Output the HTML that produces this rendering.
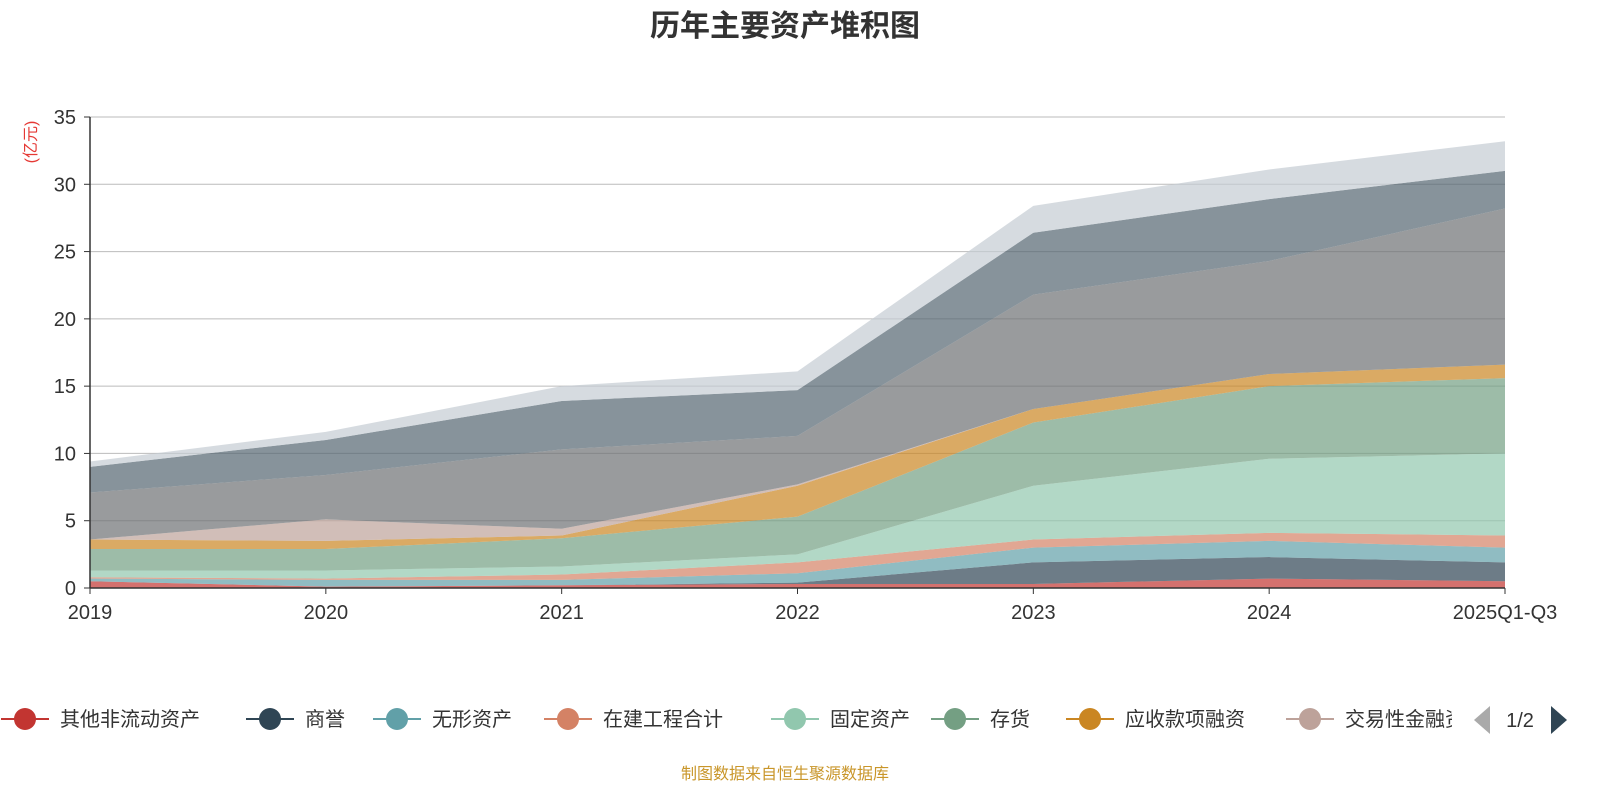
<!DOCTYPE html>
<html><head><meta charset="utf-8"><style>
body{margin:0;background:#fff;width:1600px;height:800px;overflow:hidden;font-family:"Liberation Sans","Noto Sans CJK SC",sans-serif}
</style></head><body>
<svg id="c" width="1600" height="800" xmlns="http://www.w3.org/2000/svg">
<text x="785" y="36" text-anchor="middle" font-size="30" font-weight="bold" fill="#333" font-family="Liberation Sans,Noto Sans CJK SC,sans-serif">历年主要资产堆积图</text>
<text transform="translate(36,142) rotate(-90)" text-anchor="middle" font-size="16" fill="#e53935" font-family="Liberation Sans,Noto Sans CJK SC,sans-serif">(亿元)</text>
<g id="grid"></g><g id="areas"></g><g id="axes"></g><g id="legend"></g>
<text x="785" y="779" text-anchor="middle" font-size="16" fill="#c9962a" font-family="Liberation Sans,Noto Sans CJK SC,sans-serif">制图数据来自恒生聚源数据库</text>
</svg>
<script>
const categories=["2019","2020","2021","2022","2023","2024","2025Q1-Q3"];
const seriesNames=["其他非流动资产","商誉","无形资产","在建工程合计","固定资产","存货","应收款项融资","交易性金融资产","应收账款","货币资金","其他资产"];
const s0=[0.5,0.1,0.2,0.3,0.3,0.7,0.5];
const s1=[0,0,0,0.1,1.6,1.6,1.4];
const s2=[0.2,0.5,0.4,0.7,1.1,1.2,1.1];
const s3=[0.1,0.1,0.4,0.8,0.6,0.6,0.9];
const s4=[0.5,0.6,0.6,0.6,4.0,5.5,6.1];
const s5=[1.6,1.6,2.1,2.8,4.7,5.4,5.6];
const s6=[0.7,0.6,0.2,2.3,1.0,0.9,1.0];
const s7=[0,1.6,0.5,0.1,0,0,0];
const s8=[3.5,3.3,5.9,3.6,8.5,8.4,11.6];
const s9=[1.9,2.6,3.6,3.4,4.6,4.6,2.8];
const s10=[0.4,0.6,1.1,1.4,2.0,2.2,2.2];
const yTicks=[0,5,10,15,20,25,30,35];
const series=[s0,s1,s2,s3,s4,s5,s6,s7,s8,s9,s10];
const colors=["#c23531","#2f4554","#61a0a8","#d48265","#91c7ae","#749f83","#ca8622","#bda29a","#6e7074","#546570","#c4ccd3"];
const NS="http://www.w3.org/2000/svg";
const x0=90,x1=1505,yb=588,yt=117,ymax=35;
const X=i=>x0+i*(x1-x0)/(categories.length-1);
const Y=v=>yb-v*(yb-yt)/ymax;
function mk(t,a,p){const e=document.createElementNS(NS,t);for(const k in a)e.setAttribute(k,a[k]);p.appendChild(e);return e;}
const grid=document.getElementById('grid'),areas=document.getElementById('areas'),axes=document.getElementById('axes'),leg=document.getElementById('legend');
yTicks.forEach(t=>{
 if(t>0){const l=mk('line',{x1:x0,x2:x1,y1:Y(t),y2:Y(t),stroke:'#bbb','stroke-width':1},grid);
 
 }
 const tx=mk('text',{x:x0-14,y:Y(t)+7,'text-anchor':'end','font-size':20,fill:'#333'},axes);tx.textContent=t;
 
 
 const tk=mk('line',{x1:x0-6,x2:x0,y1:Y(t),y2:Y(t),stroke:'#333'},axes);
 
 
});
let cum=categories.map(()=>0);
series.forEach((s,k)=>{
 const lo=cum.slice();cum=cum.map((c,i)=>c+s[i]);
 let d='M'+categories.map((_,i)=>X(i)+','+Y(cum[i])).join('L');
 d+='L'+categories.map((_,i)=>i).reverse().map(i=>X(i)+','+Y(lo[i])).join('L')+'Z';
 const p=mk('path',{d:d,fill:colors[k],'fill-opacity':0.7,stroke:'none'},areas);
 
 
});
const ax=mk('line',{x1:x0,x2:x1,y1:yb,y2:yb,stroke:'#333','stroke-width':1.5},axes);


const ay=mk('line',{x1:x0,x2:x0,y1:yt,y2:yb,stroke:'#333','stroke-width':1.5},axes);


categories.forEach((c,i)=>{
 const t=mk('text',{x:X(i),y:619,'text-anchor':'middle','font-size':20,fill:'#333'},axes);t.textContent=c;
 
 
 const tk=mk('line',{x1:X(i),x2:X(i),y1:yb,y2:yb+6,stroke:'#333'},axes);
 
 
});
const lx=[25,270,397,568,795,955,1090,1310];
for(let k=0;k<8;k++){
 const g=mk('g',{},leg);
 
 
 mk('line',{x1:lx[k]-24,x2:lx[k]+24,y1:719,y2:719,stroke:colors[k],'stroke-width':2},g);
 mk('circle',{cx:lx[k],cy:719,r:11,fill:colors[k]},g);
 const t=mk('text',{x:lx[k]+35,y:726,'font-size':20,fill:'#333'},g);t.textContent=seriesNames[k];
}
const cp=mk('rect',{x:1452,y:695,width:148,height:50,fill:'#fff'},leg);


const pl=mk('path',{d:'M1490,706 L1474,720 L1490,734 Z',fill:'#aaa'},leg);


const pn=mk('text',{x:1520,y:727,'text-anchor':'middle','font-size':20,fill:'#333'},leg);pn.textContent='1/2';


const pr=mk('path',{d:'M1551,706 L1567,720 L1551,734 Z',fill:'#2f4554'},leg);


</script>
</body></html>
